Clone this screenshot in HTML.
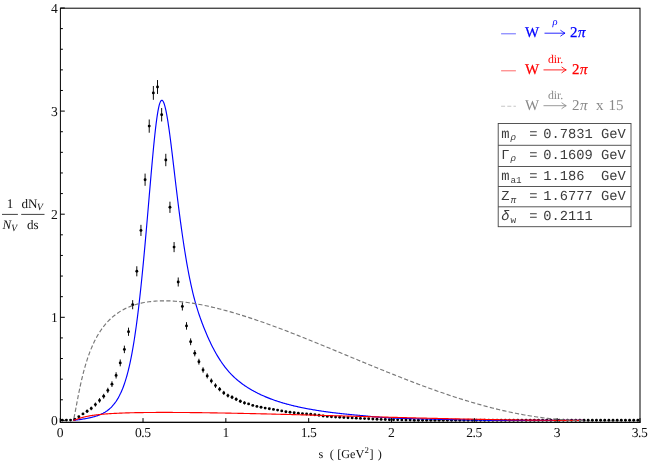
<!DOCTYPE html>
<html><head><meta charset="utf-8"><title>plot</title>
<style>html,body{margin:0;padding:0;background:#fff;}svg{display:block;will-change:transform;text-rendering:geometricPrecision;font-family:"Liberation Serif",serif;font-size:13.6px;}</style>
</head><body>
<svg width="648" height="461" viewBox="0 0 648 461">
<rect width="648" height="461" fill="#fff"/>
<g fill="#000"><circle cx="62.27" cy="420.10" r="1.45"/><circle cx="66.41" cy="420.10" r="1.45"/><circle cx="70.55" cy="420.10" r="1.45"/><circle cx="74.69" cy="419.30" r="1.45"/><circle cx="78.83" cy="416.80" r="1.45"/><circle cx="82.97" cy="413.90" r="1.45"/><circle cx="87.12" cy="411.30" r="1.45"/><circle cx="91.26" cy="408.40" r="1.45"/><circle cx="95.40" cy="404.60" r="1.45"/><circle cx="99.54" cy="400.40" r="1.45"/><circle cx="103.68" cy="396.25" r="1.45"/><circle cx="107.82" cy="390.40" r="1.45"/><circle cx="111.96" cy="384.15" r="1.45"/><circle cx="116.10" cy="375.40" r="1.45"/><circle cx="120.24" cy="362.90" r="1.45"/><circle cx="124.39" cy="349.40" r="1.45"/><circle cx="128.53" cy="331.75" r="1.45"/><circle cx="132.67" cy="304.70" r="1.45"/><circle cx="136.81" cy="271.30" r="1.45"/><circle cx="140.95" cy="230.40" r="1.45"/><circle cx="145.09" cy="179.70" r="1.45"/><circle cx="149.23" cy="126.10" r="1.45"/><circle cx="153.37" cy="92.90" r="1.45"/><circle cx="157.51" cy="87.00" r="1.45"/><circle cx="161.65" cy="114.75" r="1.45"/><circle cx="165.80" cy="160.00" r="1.45"/><circle cx="169.94" cy="207.30" r="1.45"/><circle cx="174.08" cy="247.10" r="1.45"/><circle cx="178.22" cy="282.00" r="1.45"/><circle cx="182.36" cy="306.40" r="1.45"/><circle cx="186.50" cy="325.90" r="1.45"/><circle cx="190.64" cy="341.80" r="1.45"/><circle cx="194.78" cy="353.20" r="1.45"/><circle cx="198.92" cy="361.70" r="1.45"/><circle cx="203.06" cy="370.00" r="1.45"/><circle cx="207.21" cy="375.90" r="1.45"/><circle cx="211.35" cy="380.90" r="1.45"/><circle cx="215.49" cy="385.60" r="1.45"/><circle cx="219.63" cy="389.20" r="1.45"/><circle cx="223.77" cy="392.90" r="1.45"/><circle cx="227.91" cy="395.60" r="1.45"/><circle cx="232.05" cy="397.25" r="1.45"/><circle cx="236.19" cy="399.30" r="1.45"/><circle cx="240.33" cy="401.30" r="1.45"/><circle cx="244.47" cy="402.90" r="1.45"/><circle cx="248.62" cy="403.90" r="1.45"/><circle cx="252.76" cy="405.40" r="1.45"/><circle cx="256.90" cy="406.40" r="1.45"/><circle cx="261.04" cy="407.30" r="1.45"/><circle cx="265.18" cy="408.10" r="1.45"/><circle cx="269.32" cy="408.80" r="1.45"/><circle cx="273.46" cy="409.40" r="1.45"/><circle cx="277.60" cy="410.10" r="1.45"/><circle cx="281.74" cy="410.90" r="1.45"/><circle cx="285.88" cy="411.70" r="1.45"/><circle cx="290.02" cy="412.30" r="1.45"/><circle cx="294.17" cy="412.75" r="1.45"/><circle cx="298.31" cy="413.20" r="1.45"/><circle cx="302.45" cy="413.60" r="1.45"/><circle cx="306.59" cy="414.00" r="1.45"/><circle cx="310.73" cy="414.30" r="1.45"/><circle cx="314.87" cy="414.70" r="1.45"/><circle cx="319.01" cy="415.20" r="1.45"/><circle cx="323.15" cy="416.00" r="1.45"/><circle cx="327.29" cy="416.40" r="1.45"/><circle cx="331.44" cy="416.70" r="1.45"/><circle cx="335.58" cy="417.10" r="1.45"/><circle cx="339.72" cy="417.30" r="1.45"/><circle cx="343.86" cy="417.50" r="1.45"/><circle cx="348.00" cy="417.80" r="1.45"/><circle cx="352.14" cy="417.90" r="1.45"/><circle cx="356.28" cy="418.15" r="1.45"/><circle cx="360.42" cy="418.40" r="1.45"/><circle cx="364.56" cy="418.60" r="1.45"/><circle cx="368.70" cy="418.80" r="1.45"/><circle cx="372.84" cy="419.00" r="1.45"/><circle cx="376.99" cy="419.20" r="1.45"/><circle cx="381.13" cy="419.40" r="1.45"/><circle cx="385.27" cy="419.55" r="1.45"/><circle cx="389.41" cy="419.70" r="1.45"/><circle cx="393.55" cy="419.80" r="1.45"/><circle cx="397.69" cy="419.85" r="1.45"/><circle cx="401.83" cy="419.90" r="1.45"/><circle cx="405.97" cy="419.95" r="1.45"/><circle cx="410.11" cy="420.00" r="1.45"/><circle cx="414.25" cy="420.30" r="1.45"/><circle cx="418.40" cy="420.30" r="1.45"/><circle cx="422.54" cy="420.30" r="1.45"/><circle cx="426.68" cy="420.30" r="1.45"/><circle cx="430.82" cy="420.30" r="1.45"/><circle cx="434.96" cy="420.30" r="1.45"/><circle cx="439.10" cy="420.30" r="1.45"/><circle cx="443.24" cy="420.30" r="1.45"/><circle cx="447.38" cy="420.30" r="1.45"/><circle cx="451.52" cy="420.30" r="1.45"/><circle cx="455.66" cy="420.30" r="1.45"/><circle cx="459.81" cy="420.30" r="1.45"/><circle cx="463.95" cy="420.30" r="1.45"/><circle cx="468.09" cy="420.30" r="1.45"/><circle cx="472.23" cy="420.30" r="1.45"/><circle cx="476.37" cy="420.30" r="1.45"/><circle cx="480.51" cy="420.30" r="1.45"/><circle cx="484.65" cy="420.30" r="1.45"/><circle cx="488.79" cy="420.30" r="1.45"/><circle cx="492.93" cy="420.30" r="1.45"/><circle cx="497.07" cy="420.30" r="1.45"/><circle cx="501.22" cy="420.30" r="1.45"/><circle cx="505.36" cy="420.30" r="1.45"/><circle cx="509.50" cy="420.30" r="1.45"/><circle cx="513.64" cy="420.30" r="1.45"/><circle cx="517.78" cy="420.30" r="1.45"/><circle cx="521.92" cy="420.30" r="1.45"/><circle cx="526.06" cy="420.30" r="1.45"/><circle cx="530.20" cy="420.30" r="1.45"/><circle cx="534.34" cy="420.30" r="1.45"/><circle cx="538.49" cy="420.30" r="1.45"/><circle cx="542.63" cy="420.30" r="1.45"/><circle cx="546.77" cy="420.30" r="1.45"/><circle cx="550.91" cy="420.30" r="1.45"/><circle cx="555.05" cy="420.30" r="1.45"/><circle cx="559.19" cy="420.30" r="1.45"/><circle cx="563.33" cy="420.30" r="1.45"/><circle cx="567.47" cy="420.30" r="1.45"/><circle cx="571.61" cy="420.30" r="1.45"/><circle cx="575.75" cy="420.30" r="1.45"/><circle cx="579.89" cy="420.30" r="1.45"/><circle cx="584.04" cy="420.30" r="1.45"/><circle cx="588.18" cy="420.30" r="1.45"/><circle cx="592.32" cy="420.30" r="1.45"/><circle cx="596.46" cy="420.30" r="1.45"/><circle cx="600.60" cy="420.30" r="1.45"/><circle cx="604.74" cy="420.30" r="1.45"/><circle cx="608.88" cy="420.30" r="1.45"/><circle cx="613.02" cy="420.30" r="1.45"/><circle cx="617.16" cy="420.30" r="1.45"/><circle cx="621.30" cy="420.30" r="1.45"/><circle cx="625.45" cy="420.30" r="1.45"/><circle cx="629.59" cy="420.30" r="1.45"/><circle cx="633.73" cy="420.30" r="1.45"/><circle cx="637.87" cy="420.30" r="1.45"/></g>
<path d="M87.12 409.65 V412.95 M91.26 406.56 V410.24 M95.40 402.55 V406.65 M99.54 398.14 V402.66 M103.68 393.82 V398.68 M107.82 387.75 V393.05 M111.96 381.29 V387.01 M116.10 372.28 V378.52 M120.24 359.46 V366.34 M124.39 345.65 V353.15 M128.53 327.65 V335.85 M132.67 300.14 V309.26 M136.81 266.26 V276.34 M140.95 224.84 V235.96 M145.09 173.59 V185.81 M149.23 119.48 V132.72 M153.37 85.99 V99.81 M157.51 80.04 V93.96 M161.65 108.03 V121.47 M165.80 153.80 V166.20 M169.94 201.69 V212.91 M174.08 242.04 V252.16 M178.22 277.48 V286.52 M182.36 302.30 V310.50 M186.50 322.17 V329.63 M190.64 338.39 V345.21 M194.78 350.05 V356.35 M198.92 358.76 V364.64 M203.06 367.27 V372.73 M207.21 373.34 V378.46 M211.35 378.49 V383.31 M215.49 383.33 V387.87 M219.63 387.05 V391.35 M223.77 390.89 V394.91 M227.91 393.69 V397.51 M232.05 395.40 V399.10 M236.19 397.54 V401.06 M240.33 399.62 V402.98 M244.47 401.29 V404.51" stroke="#000" stroke-width="0.95" fill="none"/>
<path d="M73.11 420.40 L74.20 420.31 L75.29 420.16 L76.38 420.01 L77.47 419.85 L78.56 419.70 L79.65 419.56 L80.74 419.42 L81.36 419.33 L81.99 419.23 L82.61 419.13 L83.23 419.03 L83.85 418.93 L84.48 418.82 L85.10 418.72 L85.72 418.61 L86.35 418.49 L86.97 418.38 L87.59 418.26 L88.21 418.14 L88.84 418.01 L89.46 417.88 L90.08 417.74 L90.70 417.60 L91.33 417.46 L91.95 417.31 L92.57 417.15 L93.20 416.99 L93.82 416.82 L94.44 416.65 L95.06 416.46 L95.69 416.27 L96.31 416.07 L96.93 415.87 L97.56 415.65 L98.18 415.43 L98.80 415.19 L99.42 414.94 L100.05 414.69 L100.67 414.42 L101.29 414.13 L101.91 413.84 L102.54 413.53 L103.16 413.21 L103.78 412.87 L104.41 412.51 L105.03 412.14 L105.65 411.75 L106.27 411.34 L106.90 410.91 L107.52 410.46 L108.14 409.98 L108.76 409.48 L109.39 408.96 L110.01 408.41 L110.63 407.84 L111.26 407.23 L111.88 406.59 L112.50 405.92 L113.12 405.22 L113.75 404.48 L114.37 403.70 L114.99 402.88 L115.62 402.02 L116.24 401.12 L116.86 400.17 L117.48 399.17 L118.11 398.11 L118.73 397.00 L119.35 395.84 L119.97 394.61 L120.60 393.32 L121.22 391.96 L121.84 390.52 L122.47 389.02 L123.09 387.43 L123.71 385.76 L124.33 384.00 L124.96 382.14 L125.58 380.19 L126.20 378.14 L126.83 375.97 L127.45 373.69 L128.07 371.29 L128.69 368.76 L129.32 366.11 L129.94 363.31 L130.56 360.37 L131.18 357.28 L131.81 354.05 L132.43 350.65 L133.05 347.10 L133.68 343.38 L134.30 339.49 L134.92 335.42 L135.54 331.18 L136.17 326.76 L136.79 322.16 L137.41 317.38 L138.03 312.41 L138.66 307.25 L139.28 301.91 L139.90 296.39 L140.53 290.68 L141.15 284.80 L141.77 278.74 L142.39 272.52 L143.02 266.13 L143.64 259.59 L144.26 252.91 L144.89 246.09 L145.51 239.16 L146.13 232.11 L146.75 224.98 L147.38 217.78 L148.00 210.52 L148.62 203.22 L149.24 195.92 L149.87 188.63 L150.49 181.38 L151.11 174.20 L151.74 167.13 L152.36 160.20 L152.98 153.45 L153.60 146.92 L154.23 140.66 L154.85 134.71 L155.47 129.10 L156.10 123.89 L156.72 119.12 L157.34 114.82 L157.96 111.05 L158.59 107.83 L159.21 105.19 L159.83 103.13 L160.45 101.62 L161.08 100.68 L161.70 100.28 L162.32 100.41 L162.95 101.05 L163.57 102.18 L164.19 103.77 L164.81 105.81 L165.44 108.27 L166.06 111.11 L166.68 114.32 L167.30 117.85 L167.93 121.70 L168.55 125.81 L169.17 130.18 L169.80 134.76 L170.42 139.52 L171.04 144.44 L171.66 149.49 L172.29 154.63 L172.91 159.85 L173.53 165.12 L174.16 170.41 L174.78 175.70 L175.40 180.98 L176.02 186.21 L176.65 191.40 L177.27 196.51 L177.89 201.54 L178.51 206.49 L179.14 211.36 L179.76 216.13 L180.38 220.81 L181.01 225.39 L181.63 229.88 L182.25 234.26 L182.87 238.54 L183.50 242.72 L184.12 246.80 L184.74 250.77 L185.37 254.63 L185.99 258.39 L186.61 262.04 L187.23 265.58 L187.86 269.02 L188.48 272.35 L189.10 275.58 L189.72 278.71 L190.35 281.73 L190.97 284.65 L191.59 287.47 L192.22 290.19 L192.84 292.80 L193.46 295.33 L194.08 297.75 L194.71 300.09 L195.33 302.35 L195.95 304.53 L196.57 306.64 L197.20 308.68 L197.82 310.66 L198.44 312.59 L199.07 314.46 L199.69 316.29 L200.31 318.07 L200.93 319.81 L201.56 321.51 L202.18 323.18 L202.80 324.81 L203.43 326.42 L204.05 328.00 L204.67 329.56 L205.29 331.09 L205.92 332.59 L206.54 334.06 L207.16 335.51 L207.78 336.93 L208.41 338.33 L209.03 339.70 L209.65 341.05 L210.28 342.37 L210.90 343.66 L211.52 344.94 L212.14 346.18 L212.77 347.41 L213.39 348.61 L214.01 349.79 L214.63 350.94 L215.26 352.07 L215.88 353.18 L216.50 354.27 L217.13 355.34 L217.75 356.38 L218.37 357.40 L218.99 358.41 L219.62 359.39 L220.24 360.35 L220.86 361.29 L221.49 362.21 L222.11 363.12 L222.73 364.00 L223.35 364.86 L223.98 365.71 L224.60 366.54 L225.22 367.35 L225.84 368.14 L226.47 368.92 L227.09 369.68 L227.71 370.42 L228.34 371.14 L228.96 371.85 L229.58 372.54 L230.20 373.22 L230.83 373.88 L231.45 374.53 L232.07 375.16 L232.70 375.78 L233.32 376.39 L233.94 376.98 L234.56 377.56 L235.19 378.13 L235.81 378.69 L236.43 379.24 L237.05 379.78 L237.68 380.30 L238.30 380.82 L238.92 381.32 L239.55 381.82 L240.17 382.31 L240.79 382.78 L241.41 383.25 L242.04 383.71 L242.66 384.17 L243.28 384.61 L243.90 385.05 L244.53 385.48 L245.15 385.90 L245.77 386.32 L246.40 386.73 L247.02 387.13 L247.64 387.53 L248.26 387.92 L248.89 388.31 L249.51 388.68 L250.13 389.06 L250.76 389.43 L251.38 389.79 L252.00 390.15 L252.62 390.50 L253.25 390.85 L253.87 391.19 L254.49 391.53 L255.11 391.86 L255.74 392.19 L256.36 392.52 L256.98 392.84 L257.61 393.15 L258.23 393.46 L258.85 393.77 L259.47 394.07 L260.10 394.37 L260.72 394.66 L261.34 394.95 L261.97 395.24 L262.59 395.52 L263.21 395.80 L263.83 396.07 L264.46 396.34 L265.08 396.61 L265.70 396.87 L266.32 397.13 L266.95 397.39 L267.57 397.64 L268.19 397.89 L268.82 398.14 L269.44 398.38 L270.06 398.62 L270.68 398.86 L271.31 399.09 L271.93 399.32 L272.55 399.55 L273.17 399.77 L273.80 400.00 L274.42 400.22 L275.04 400.43 L275.67 400.65 L276.29 400.86 L276.91 401.06 L277.53 401.27 L278.16 401.47 L278.78 401.67 L279.40 401.87 L280.03 402.07 L280.65 402.26 L281.27 402.45 L281.89 402.64 L282.52 402.83 L283.14 403.01 L283.76 403.19 L284.38 403.37 L285.01 403.55 L285.63 403.72 L286.25 403.90 L286.88 404.07 L287.50 404.24 L288.12 404.40 L288.74 404.57 L289.37 404.73 L289.99 404.89 L290.61 405.05 L291.23 405.21 L291.86 405.36 L292.48 405.52 L293.10 405.67 L293.73 405.82 L294.35 405.97 L294.97 406.11 L295.59 406.26 L296.22 406.40 L296.84 406.54 L297.46 406.68 L298.09 406.82 L298.71 406.96 L299.33 407.09 L299.95 407.23 L300.58 407.36 L301.20 407.49 L301.82 407.62 L302.44 407.75 L303.07 407.88 L303.69 408.00 L304.31 408.13 L304.94 408.25 L305.56 408.37 L306.18 408.49 L306.80 408.61 L307.43 408.73 L308.05 408.84 L308.67 408.96 L309.30 409.07 L309.92 409.18 L310.54 409.30 L311.16 409.41 L311.79 409.51 L312.41 409.62 L313.03 409.73 L313.65 409.83 L314.28 409.94 L314.90 410.04 L315.52 410.15 L316.15 410.25 L316.77 410.35 L317.39 410.45 L318.01 410.54 L318.64 410.64 L319.26 410.74 L319.88 410.83 L320.50 410.93 L321.13 411.02 L321.75 411.11 L322.37 411.21 L323.00 411.30 L323.62 411.39 L324.24 411.48 L324.86 411.56 L325.49 411.65 L326.11 411.74 L326.73 411.82 L327.36 411.91 L327.98 411.99 L328.60 412.08 L329.22 412.16 L329.85 412.24 L330.47 412.32 L331.09 412.40 L331.71 412.48 L332.34 412.56 L332.96 412.64 L333.58 412.71 L334.21 412.79 L334.83 412.86 L335.45 412.94 L336.07 413.01 L336.70 413.09 L337.32 413.16 L337.94 413.23 L338.57 413.30 L339.19 413.37 L339.81 413.44 L340.43 413.51 L341.06 413.58 L341.68 413.65 L342.30 413.72 L342.92 413.79 L343.55 413.85 L344.17 413.92 L344.79 413.98 L345.42 414.05 L346.04 414.11 L346.66 414.17 L347.28 414.24 L347.91 414.30 L348.53 414.36 L349.15 414.42 L349.77 414.48 L350.40 414.54 L351.02 414.60 L351.64 414.66 L352.27 414.72 L352.89 414.78 L353.51 414.84 L354.13 414.89 L354.76 414.95 L355.38 415.01 L356.00 415.06 L356.63 415.12 L357.25 415.17 L357.87 415.23 L358.49 415.28 L359.12 415.33 L359.74 415.39 L360.36 415.45 L360.98 415.50 L361.61 415.56 L362.23 415.62 L362.85 415.68 L363.48 415.74 L364.10 415.80 L364.72 415.86 L365.34 415.93 L365.97 415.99 L366.59 416.05 L367.21 416.11 L367.83 416.17 L368.46 416.23 L369.08 416.29 L369.70 416.35 L370.33 416.41 L370.95 416.47 L371.57 416.53 L372.19 416.59 L372.82 416.64 L373.44 416.70 L374.06 416.76 L374.69 416.81 L375.31 416.87 L375.93 416.92 L376.55 416.97 L377.18 417.03 L377.80 417.08 L378.42 417.13 L379.04 417.18 L379.67 417.23 L380.29 417.27 L380.91 417.32 L381.54 417.37 L382.16 417.41 L382.78 417.45 L383.40 417.50 L384.03 417.54 L384.65 417.58 L385.27 417.62 L385.90 417.66 L386.52 417.70 L387.14 417.73 L387.76 417.77 L388.39 417.81 L389.01 417.84 L389.63 417.87 L390.25 417.91 L390.88 417.94 L391.50 417.97 L394.75 418.10 L398.00 418.23 L401.25 418.34 L404.50 418.45 L407.75 418.54 L410.99 418.62 L414.24 418.71 L417.49 418.79 L420.74 418.87 L423.99 418.95 L427.24 419.03 L430.49 419.11 L433.74 419.19 L436.99 419.26 L440.24 419.34 L443.49 419.41 L446.73 419.49 L449.98 419.56 L453.23 419.63 L456.48 419.70 L459.73 419.77 L462.98 419.84 L466.23 419.91 L469.48 419.97 L472.73 420.04 L475.98 420.10 L479.23 420.16 L482.47 420.22 L485.72 420.28 L488.97 420.33 L492.22 420.33 L495.47 420.33 L498.72 420.34 L501.97 420.34 L505.22 420.34 L508.47 420.34 L511.72 420.35 L514.96 420.35 L518.21 420.35 L521.46 420.35 L524.71 420.36 L527.96 420.36 L531.21 420.36 L534.46 420.36 L537.71 420.37 L540.96 420.37 L544.21 420.37 L547.46 420.37 L550.70 420.38 L553.95 420.38 L557.20 420.38 L560.45 420.38 L563.70 420.39 L566.95 420.39 L570.20 420.39 L573.45 420.39 L576.70 420.40 L579.95 420.40 L583.20 420.40" stroke="#0000ff" stroke-width="1.15" fill="none" stroke-linejoin="round"/>
<path d="M73.11 420.40 L73.11 420.40 L73.12 420.40 L73.14 420.40 L73.16 420.40 L73.20 420.39 L73.23 420.39 L73.28 420.38 L73.33 420.38 L73.39 420.37 L73.46 420.35 L73.53 420.34 L73.61 420.32 L73.70 420.30 L73.80 420.28 L73.90 420.25 L74.01 420.22 L74.12 420.19 L74.24 420.15 L74.37 420.11 L74.51 420.07 L74.65 420.02 L74.81 419.97 L74.96 419.92 L75.13 419.86 L75.30 419.80 L75.48 419.74 L75.67 419.67 L75.86 419.60 L76.06 419.53 L76.27 419.46 L76.48 419.38 L76.70 419.30 L76.93 419.22 L77.16 419.14 L77.41 419.05 L77.66 418.96 L77.91 418.87 L78.17 418.78 L78.44 418.69 L78.72 418.60 L79.01 418.50 L79.30 418.41 L79.60 418.31 L79.90 418.21 L80.21 418.12 L80.53 418.02 L80.86 417.92 L81.19 417.82 L81.53 417.72 L81.88 417.62 L82.23 417.52 L82.60 417.43 L82.96 417.33 L83.34 417.23 L83.72 417.13 L84.11 417.04 L84.51 416.94 L84.91 416.84 L85.32 416.75 L85.74 416.65 L86.17 416.56 L86.60 416.47 L87.04 416.38 L87.48 416.29 L87.93 416.20 L88.39 416.11 L88.86 416.02 L89.33 415.93 L89.82 415.85 L90.30 415.76 L90.80 415.68 L91.30 415.60 L91.81 415.52 L92.32 415.44 L92.85 415.36 L93.38 415.28 L93.91 415.21 L94.46 415.13 L95.01 415.06 L95.57 414.99 L96.13 414.91 L96.70 414.84 L97.28 414.77 L97.87 414.71 L98.46 414.64 L99.06 414.58 L99.67 414.51 L100.28 414.45 L100.90 414.39 L101.53 414.33 L102.17 414.27 L102.81 414.21 L103.46 414.15 L104.12 414.10 L104.78 414.04 L105.45 413.99 L106.13 413.93 L106.81 413.88 L107.50 413.83 L108.20 413.78 L108.91 413.73 L109.62 413.69 L110.34 413.64 L111.06 413.60 L111.80 413.55 L112.54 413.51 L113.29 413.47 L114.04 413.43 L114.80 413.39 L115.57 413.35 L116.35 413.31 L117.13 413.27 L117.92 413.23 L118.71 413.20 L119.52 413.16 L120.33 413.13 L121.15 413.10 L121.97 413.07 L122.80 413.04 L124.34 412.98 L125.88 412.93 L127.42 412.88 L128.96 412.84 L130.50 412.80 L132.04 412.76 L133.58 412.72 L135.12 412.69 L136.66 412.66 L138.20 412.63 L139.74 412.61 L141.28 412.58 L142.82 412.56 L144.36 412.54 L145.90 412.52 L147.44 412.51 L148.98 412.49 L150.52 412.48 L152.06 412.47 L153.60 412.46 L155.14 412.45 L156.68 412.44 L158.22 412.44 L159.76 412.43 L161.30 412.43 L162.84 412.43 L164.38 412.43 L165.92 412.43 L167.46 412.43 L169.00 412.43 L170.54 412.44 L172.08 412.44 L173.61 412.45 L175.15 412.45 L176.69 412.46 L178.23 412.47 L179.77 412.48 L181.31 412.49 L182.85 412.50 L184.39 412.51 L185.93 412.53 L187.47 412.54 L189.01 412.55 L190.55 412.57 L192.09 412.58 L193.63 412.60 L195.17 412.62 L196.71 412.64 L198.25 412.65 L199.79 412.67 L201.33 412.69 L202.87 412.71 L204.41 412.73 L205.95 412.76 L207.49 412.78 L209.03 412.80 L210.57 412.82 L212.11 412.85 L213.65 412.87 L215.19 412.90 L216.73 412.92 L218.27 412.95 L219.81 412.97 L221.35 413.00 L222.89 413.03 L224.43 413.05 L225.97 413.08 L227.51 413.11 L229.05 413.14 L230.59 413.17 L232.13 413.20 L233.67 413.23 L235.21 413.26 L236.75 413.29 L238.29 413.32 L239.83 413.35 L241.37 413.38 L242.90 413.41 L244.44 413.45 L245.98 413.48 L247.52 413.51 L249.06 413.55 L250.60 413.58 L252.14 413.61 L253.68 413.65 L255.22 413.68 L256.76 413.72 L258.30 413.75 L259.84 413.79 L261.38 413.82 L262.92 413.86 L264.46 413.90 L266.00 413.93 L267.54 413.97 L269.08 414.01 L270.62 414.04 L272.16 414.08 L273.70 414.12 L275.24 414.16 L276.78 414.20 L278.32 414.23 L279.86 414.27 L281.40 414.31 L282.94 414.35 L284.48 414.39 L286.02 414.43 L287.56 414.47 L289.10 414.51 L290.64 414.55 L292.18 414.59 L293.72 414.63 L295.26 414.67 L296.80 414.71 L298.34 414.75 L299.88 414.79 L301.42 414.83 L302.96 414.87 L304.50 414.91 L306.04 414.95 L307.58 414.99 L309.12 415.03 L310.66 415.08 L312.19 415.12 L313.73 415.16 L315.27 415.20 L316.81 415.24 L318.35 415.28 L319.89 415.33 L321.43 415.37 L322.97 415.41 L324.51 415.45 L326.05 415.49 L327.59 415.54 L329.13 415.58 L330.67 415.62 L332.21 415.66 L333.75 415.71 L335.29 415.75 L336.83 415.79 L338.37 415.83 L339.91 415.88 L341.45 415.92 L342.99 415.96 L344.53 416.00 L346.07 416.05 L347.61 416.09 L349.15 416.13 L350.69 416.17 L352.23 416.22 L353.77 416.26 L355.31 416.30 L356.85 416.35 L358.39 416.39 L359.93 416.43 L361.47 416.47 L363.01 416.52 L364.55 416.56 L366.09 416.60 L367.63 416.64 L369.17 416.68 L370.71 416.73 L372.25 416.77 L373.79 416.81 L375.33 416.85 L376.87 416.89 L378.41 416.94 L379.94 416.98 L381.48 417.02 L383.02 417.06 L384.56 417.10 L386.10 417.14 L387.64 417.19 L389.18 417.23 L390.72 417.27 L392.26 417.31 L393.80 417.35 L395.34 417.39 L396.88 417.43 L398.42 417.47 L399.96 417.51 L401.50 417.55 L403.04 417.59 L404.58 417.63 L406.12 417.67 L407.66 417.71 L409.20 417.75 L410.74 417.79 L412.28 417.83 L413.82 417.87 L415.36 417.91 L416.90 417.95 L418.44 417.99 L419.98 418.03 L421.52 418.06 L423.06 418.10 L424.60 418.14 L426.14 418.18 L427.68 418.21 L429.22 418.25 L430.76 418.29 L432.30 418.33 L433.84 418.36 L435.38 418.40 L436.92 418.44 L438.46 418.47 L440.00 418.51 L441.54 418.54 L443.08 418.58 L444.62 418.61 L446.16 418.65 L447.70 418.68 L449.23 418.72 L450.77 418.75 L452.31 418.79 L453.85 418.82 L455.39 418.85 L456.93 418.89 L458.47 418.92 L460.01 418.95 L461.55 418.98 L463.09 419.02 L464.63 419.05 L466.17 419.08 L467.71 419.11 L469.25 419.14 L470.79 419.17 L472.33 419.20 L473.87 419.23 L475.41 419.26 L476.95 419.29 L478.49 419.32 L480.03 419.35 L481.57 419.38 L483.11 419.41 L484.65 419.44 L486.19 419.46 L487.73 419.49 L489.27 419.52 L490.81 419.54 L492.35 419.57 L493.89 419.60 L495.43 419.62 L496.97 419.65 L498.51 419.67 L500.05 419.70 L501.59 419.72 L503.13 419.75 L504.67 419.77 L506.21 419.79 L507.75 419.81 L509.29 419.84 L510.83 419.86 L512.37 419.88 L513.91 419.90 L515.45 419.92 L516.99 419.94 L518.52 419.96 L520.06 419.98 L521.60 420.00 L523.14 420.02 L524.68 420.04 L526.22 420.06 L527.76 420.07 L529.30 420.09 L530.84 420.11 L532.38 420.12 L533.92 420.14 L535.46 420.16 L537.00 420.17 L538.54 420.19 L540.08 420.20 L541.62 420.21 L543.16 420.23 L544.70 420.24 L546.24 420.25 L547.78 420.26 L549.32 420.27 L550.86 420.29 L552.40 420.30 L553.94 420.31 L555.48 420.32 L557.02 420.32 L558.56 420.33 L560.10 420.34 L561.64 420.35 L563.18 420.36 L564.72 420.36 L566.26 420.37 L567.80 420.37 L569.34 420.38 L570.88 420.38 L572.42 420.39 L573.96 420.39 L575.50 420.39 L577.04 420.40 L578.58 420.40 L580.12 420.40 L581.66 420.40 L583.20 420.40" stroke="#ff0000" stroke-width="1.15" fill="none" stroke-linejoin="round"/>
<path d="M73.11 420.40 L73.11 420.40 L73.12 420.39 L73.14 420.38 L73.16 420.35 L73.20 420.31 L73.23 420.25 L73.28 420.16 L73.33 420.04 L73.39 419.89 L73.46 419.70 L73.53 419.48 L73.61 419.21 L73.70 418.91 L73.80 418.55 L73.90 418.15 L74.01 417.71 L74.12 417.21 L74.24 416.66 L74.37 416.06 L74.51 415.42 L74.65 414.72 L74.81 413.97 L74.96 413.17 L75.13 412.32 L75.30 411.42 L75.48 410.48 L75.67 409.49 L75.86 408.45 L76.06 407.38 L76.27 406.26 L76.48 405.11 L76.70 403.92 L76.93 402.70 L77.16 401.44 L77.41 400.15 L77.66 398.84 L77.91 397.50 L78.17 396.14 L78.44 394.76 L78.72 393.36 L79.01 391.94 L79.30 390.50 L79.60 389.06 L79.90 387.60 L80.21 386.14 L80.53 384.67 L80.86 383.19 L81.19 381.71 L81.53 380.23 L81.88 378.75 L82.23 377.27 L82.60 375.79 L82.96 374.32 L83.34 372.85 L83.72 371.39 L84.11 369.93 L84.51 368.49 L84.91 367.05 L85.32 365.63 L85.74 364.22 L86.17 362.81 L86.60 361.43 L87.04 360.05 L87.48 358.69 L87.93 357.35 L88.39 356.02 L88.86 354.70 L89.33 353.41 L89.82 352.12 L90.30 350.86 L90.80 349.61 L91.30 348.38 L91.81 347.17 L92.32 345.97 L92.85 344.79 L93.38 343.63 L93.91 342.49 L94.46 341.37 L95.01 340.26 L95.57 339.18 L96.13 338.11 L96.70 337.06 L97.28 336.02 L97.87 335.01 L98.46 334.01 L99.06 333.03 L99.67 332.07 L100.28 331.13 L100.90 330.20 L101.53 329.30 L102.17 328.40 L102.81 327.53 L103.46 326.67 L104.12 325.84 L104.78 325.01 L105.45 324.21 L106.13 323.42 L106.81 322.65 L107.50 321.89 L108.20 321.15 L108.91 320.42 L109.62 319.72 L110.34 319.02 L111.06 318.34 L111.80 317.68 L112.54 317.03 L113.29 316.40 L114.04 315.78 L114.80 315.18 L115.57 314.59 L116.35 314.02 L117.13 313.46 L117.92 312.91 L118.71 312.38 L119.52 311.86 L120.33 311.36 L121.15 310.87 L121.97 310.39 L122.80 309.93 L124.34 309.11 L125.88 308.35 L127.42 307.64 L128.96 306.97 L130.50 306.35 L132.04 305.78 L133.58 305.25 L135.12 304.75 L136.66 304.29 L138.20 303.87 L139.74 303.48 L141.28 303.12 L142.82 302.79 L144.36 302.50 L145.90 302.23 L147.44 301.98 L148.98 301.76 L150.52 301.57 L152.06 301.40 L153.60 301.26 L155.14 301.13 L156.68 301.03 L158.22 300.94 L159.76 300.88 L161.30 300.84 L162.84 300.81 L164.38 300.80 L165.92 300.81 L167.46 300.84 L169.00 300.88 L170.54 300.94 L172.08 301.01 L173.61 301.10 L175.15 301.20 L176.69 301.32 L178.23 301.45 L179.77 301.59 L181.31 301.75 L182.85 301.91 L184.39 302.09 L185.93 302.29 L187.47 302.49 L189.01 302.70 L190.55 302.93 L192.09 303.17 L193.63 303.41 L195.17 303.67 L196.71 303.94 L198.25 304.21 L199.79 304.50 L201.33 304.79 L202.87 305.10 L204.41 305.41 L205.95 305.73 L207.49 306.06 L209.03 306.40 L210.57 306.75 L212.11 307.10 L213.65 307.46 L215.19 307.83 L216.73 308.21 L218.27 308.60 L219.81 308.99 L221.35 309.39 L222.89 309.79 L224.43 310.20 L225.97 310.62 L227.51 311.05 L229.05 311.48 L230.59 311.91 L232.13 312.36 L233.67 312.81 L235.21 313.26 L236.75 313.72 L238.29 314.19 L239.83 314.66 L241.37 315.14 L242.90 315.62 L244.44 316.10 L245.98 316.60 L247.52 317.09 L249.06 317.59 L250.60 318.10 L252.14 318.61 L253.68 319.13 L255.22 319.65 L256.76 320.17 L258.30 320.70 L259.84 321.23 L261.38 321.77 L262.92 322.31 L264.46 322.85 L266.00 323.40 L267.54 323.95 L269.08 324.50 L270.62 325.06 L272.16 325.62 L273.70 326.19 L275.24 326.75 L276.78 327.33 L278.32 327.90 L279.86 328.48 L281.40 329.06 L282.94 329.64 L284.48 330.23 L286.02 330.81 L287.56 331.41 L289.10 332.00 L290.64 332.60 L292.18 333.19 L293.72 333.79 L295.26 334.40 L296.80 335.00 L298.34 335.61 L299.88 336.22 L301.42 336.83 L302.96 337.44 L304.50 338.06 L306.04 338.67 L307.58 339.29 L309.12 339.91 L310.66 340.53 L312.19 341.16 L313.73 341.78 L315.27 342.41 L316.81 343.03 L318.35 343.66 L319.89 344.29 L321.43 344.92 L322.97 345.55 L324.51 346.19 L326.05 346.82 L327.59 347.45 L329.13 348.09 L330.67 348.72 L332.21 349.36 L333.75 350.00 L335.29 350.63 L336.83 351.27 L338.37 351.91 L339.91 352.55 L341.45 353.19 L342.99 353.83 L344.53 354.47 L346.07 355.11 L347.61 355.74 L349.15 356.38 L350.69 357.02 L352.23 357.66 L353.77 358.30 L355.31 358.94 L356.85 359.58 L358.39 360.22 L359.93 360.85 L361.47 361.49 L363.01 362.13 L364.55 362.76 L366.09 363.40 L367.63 364.03 L369.17 364.67 L370.71 365.30 L372.25 365.93 L373.79 366.56 L375.33 367.19 L376.87 367.82 L378.41 368.45 L379.94 369.08 L381.48 369.70 L383.02 370.33 L384.56 370.95 L386.10 371.57 L387.64 372.19 L389.18 372.81 L390.72 373.43 L392.26 374.04 L393.80 374.65 L395.34 375.27 L396.88 375.88 L398.42 376.48 L399.96 377.09 L401.50 377.70 L403.04 378.30 L404.58 378.90 L406.12 379.50 L407.66 380.09 L409.20 380.69 L410.74 381.28 L412.28 381.87 L413.82 382.45 L415.36 383.04 L416.90 383.62 L418.44 384.20 L419.98 384.78 L421.52 385.35 L423.06 385.92 L424.60 386.49 L426.14 387.06 L427.68 387.62 L429.22 388.18 L430.76 388.73 L432.30 389.29 L433.84 389.84 L435.38 390.39 L436.92 390.93 L438.46 391.47 L440.00 392.01 L441.54 392.55 L443.08 393.08 L444.62 393.60 L446.16 394.13 L447.70 394.65 L449.23 395.17 L450.77 395.68 L452.31 396.19 L453.85 396.70 L455.39 397.20 L456.93 397.70 L458.47 398.19 L460.01 398.68 L461.55 399.17 L463.09 399.65 L464.63 400.13 L466.17 400.60 L467.71 401.07 L469.25 401.53 L470.79 402.00 L472.33 402.45 L473.87 402.90 L475.41 403.35 L476.95 403.79 L478.49 404.23 L480.03 404.67 L481.57 405.10 L483.11 405.52 L484.65 405.94 L486.19 406.35 L487.73 406.76 L489.27 407.17 L490.81 407.57 L492.35 407.96 L493.89 408.35 L495.43 408.74 L496.97 409.11 L498.51 409.49 L500.05 409.86 L501.59 410.22 L503.13 410.58 L504.67 410.93 L506.21 411.28 L507.75 411.62 L509.29 411.95 L510.83 412.28 L512.37 412.61 L513.91 412.92 L515.45 413.24 L516.99 413.54 L518.52 413.84 L520.06 414.14 L521.60 414.42 L523.14 414.71 L524.68 414.98 L526.22 415.25 L527.76 415.52 L529.30 415.77 L530.84 416.02 L532.38 416.27 L533.92 416.51 L535.46 416.74 L537.00 416.96 L538.54 417.18 L540.08 417.39 L541.62 417.60 L543.16 417.80 L544.70 417.99 L546.24 418.17 L547.78 418.35 L549.32 418.52 L550.86 418.68 L552.40 418.84 L553.94 418.99 L555.48 419.13 L557.02 419.26 L558.56 419.39 L560.10 419.51 L561.64 419.62 L563.18 419.73 L564.72 419.83 L566.26 419.92 L567.80 420.00 L569.34 420.08 L570.88 420.14 L572.42 420.20 L573.96 420.26 L575.50 420.30 L577.04 420.34 L578.58 420.36 L580.12 420.38 L581.66 420.40 L583.20 420.40" stroke="#777" stroke-width="1.15" fill="none" stroke-dasharray="4.2 2.25" stroke-dashoffset="-2.4"/>
<rect x="60.40" y="8.20" width="579.60" height="414.10" fill="none" stroke="#000" stroke-width="1.0"/><path d="M59.9 422.35 H640.5" stroke="#000" stroke-width="1.0"/>
<path d="M60.40 420.40 h4.4 M60.40 399.78 h2.5 M60.40 379.16 h2.5 M60.40 358.54 h2.5 M60.40 337.92 h2.5 M60.40 317.30 h4.4 M60.40 296.68 h2.5 M60.40 276.06 h2.5 M60.40 255.44 h2.5 M60.40 234.82 h2.5 M60.40 214.20 h4.4 M60.40 193.58 h2.5 M60.40 172.96 h2.5 M60.40 152.34 h2.5 M60.40 131.72 h2.5 M60.40 111.10 h4.4 M60.40 90.48 h2.5 M60.40 69.86 h2.5 M60.40 49.24 h2.5 M60.40 28.62 h2.5 M60.40 8.00 h4.4 M60.20 422.30 v-4.2 M143.03 422.30 v-4.2 M225.85 422.30 v-4.2 M308.68 422.30 v-4.2 M391.50 422.30 v-4.2 M474.32 422.30 v-4.2 M557.15 422.30 v-4.2 M639.98 422.30 v-4.2" stroke="#000" stroke-width="1.0" fill="none"/>
<g fill="#111"><text x="57.9" y="424.80" text-anchor="end">0</text><text x="57.9" y="322.00" text-anchor="end">1</text><text x="57.9" y="218.90" text-anchor="end">2</text><text x="57.9" y="115.80" text-anchor="end">3</text><text x="57.9" y="12.70" text-anchor="end">4</text><text x="60.20" y="436.9" text-anchor="middle">0</text><text x="143.03" y="436.9" text-anchor="middle">0<tspan dx="-0.5">.</tspan><tspan dx="-0.5">5</tspan></text><text x="225.85" y="436.9" text-anchor="middle">1</text><text x="308.68" y="436.9" text-anchor="middle">1<tspan dx="-0.5">.</tspan><tspan dx="-0.5">5</tspan></text><text x="391.50" y="436.9" text-anchor="middle">2</text><text x="474.32" y="436.9" text-anchor="middle">2<tspan dx="-0.5">.</tspan><tspan dx="-0.5">5</tspan></text><text x="557.15" y="436.9" text-anchor="middle">3</text><text x="639.68" y="436.9" text-anchor="middle">3<tspan dx="-0.5">.</tspan><tspan dx="-0.5">5</tspan></text></g>
<g fill="#111" font-size="13.1px"><path d="M2 214.4 H17.9 M21.2 214.4 H44.5" stroke="#111" stroke-width="0.8"/><text x="9.9" y="207.9" text-anchor="middle">1</text><text x="2.4" y="229.1" font-style="italic">N</text><text x="11.2" y="231.1" font-style="italic" font-size="9.5px">V</text><text x="21.5" y="207.9">dN</text><text x="37.0" y="210.0" font-style="italic" font-size="9.5px">V</text><text x="27.0" y="229.1">ds</text></g><g fill="#111" font-size="12.2px"><text x="318.6" y="457.8">s</text><text x="329.8" y="457.8">(</text><text x="337.2" y="457.8">[GeV</text><text x="364.6" y="453.0" font-size="8.8px">2</text><text x="369.6" y="457.8">]</text><text x="377.8" y="457.8">)</text></g>
<g fill="#0000ff" stroke="none" font-size="15px"><path d="M501.1 33.80 H515.9" stroke="#0000ff" stroke-width="0.6" fill="none"/><text x="525.0" y="37.00" stroke="#0000ff" stroke-width="0.25">W</text><path d="M544.90 33.20 H564.70 M560.70 30.40 q2.4 1.8 4.3 2.8 q-1.9 1.0 -4.3 2.8" stroke="#0000ff" stroke-width="0.85" fill="none" stroke-linecap="round" stroke-linejoin="round"/><text x="555.00" y="37.00" dy="-11.8" font-size="10.5px" font-style="italic" text-anchor="middle">ρ</text><text x="569.90" y="37.00" stroke="#0000ff" stroke-width="0.25">2<tspan font-style="italic" dx="0.6">π</tspan></text></g><g fill="#ff0000" stroke="none" font-size="15px"><path d="M501.1 70.80 H515.9" stroke="#ff0000" stroke-width="0.6" fill="none"/><text x="525.0" y="73.70" stroke="#ff0000" stroke-width="0.25">W</text><path d="M543.90 69.90 H565.90 M561.90 67.10 q2.4 1.8 4.3 2.8 q-1.9 1.0 -4.3 2.8" stroke="#ff0000" stroke-width="0.85" fill="none" stroke-linecap="round" stroke-linejoin="round"/><text x="555.60" y="73.70" dy="-11.0" font-size="11.8px" text-anchor="middle">dir.</text><text x="572.00" y="73.70" stroke="#ff0000" stroke-width="0.25">2<tspan font-style="italic" dx="0.6">π</tspan></text></g><g fill="#888888" stroke="none" font-size="15px"><path d="M501.1 106.25 H515.9" stroke="#a0a0a0" stroke-width="0.6" fill="none" stroke-dasharray="4 2.2"/><text x="525.0" y="109.50">W</text><path d="M543.90 105.70 H565.90 M561.90 102.90 q2.4 1.8 4.3 2.8 q-1.9 1.0 -4.3 2.8" stroke="#888888" stroke-width="0.85" fill="none" stroke-linecap="round" stroke-linejoin="round"/><text x="555.60" y="109.50" dy="-11.0" font-size="11.8px" text-anchor="middle">dir.</text><text x="572.00" y="109.50">2<tspan font-style="italic" dx="0.6">π</tspan><tspan dx="8.3">x</tspan><tspan dx="5.2">15</tspan></text></g>
<g stroke="#444" stroke-width="0.9" fill="none"><rect x="498.2" y="123.5" width="132.8" height="103.2"/><path d="M498.2 145.3 H631.0 M498.2 166.5 H631.0 M498.2 186.5 H631.0 M498.2 206.8 H631.0"/></g><g fill="#3c3c3c" font-size="13.78px" font-family="Liberation Mono, monospace"><text x="501.2" y="137.8">m</text><text x="510.5" y="140.1" font-size="9.3px" font-style="italic">ρ</text><text x="529.3" y="137.8">=</text><text x="543.2" y="137.8">0.7831</text><text x="601.1" y="137.8">GeV</text><text x="501.2" y="159.1">Γ</text><text x="510.5" y="161.4" font-size="9.3px" font-style="italic">ρ</text><text x="529.3" y="159.1">=</text><text x="543.2" y="159.1">0.1609</text><text x="601.1" y="159.1">GeV</text><text x="501.2" y="180.3">m</text><text x="510.5" y="182.6" font-size="9.3px">a1</text><text x="529.3" y="180.3">=</text><text x="543.2" y="180.3">1.186</text><text x="601.1" y="180.3">GeV</text><text x="501.2" y="200.3">Z</text><text x="510.5" y="202.6" font-size="9.3px" font-style="italic">π</text><text x="529.3" y="200.3">=</text><text x="543.2" y="200.3">1.6777</text><text x="601.1" y="200.3">GeV</text><text x="501.2" y="220.2" font-style="italic">δ</text><text x="510.5" y="222.5" font-size="9.3px">w</text><text x="529.3" y="220.2">=</text><text x="543.2" y="220.2">0.2111</text></g>
</svg>
</body></html>
